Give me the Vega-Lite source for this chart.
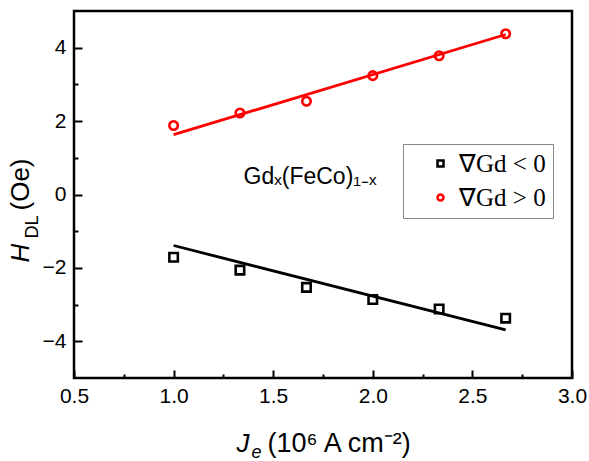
{
  "$schema": "https://vega.github.io/schema/vega-lite/v6.json",
  "width": 498,
  "height": 367,
  "autosize": {"type": "none"},
  "padding": {"left": 74, "top": 11, "right": 17, "bottom": 83},
  "background": "white",
  "config": {
    "view": {"stroke": "black", "strokeWidth": 2.5},
    "axis": {
      "domain": false,
      "grid": false,
      "tickColor": "black",
      "tickWidth": 2,
      "labelFont": "Liberation Sans",
      "labelFontSize": 21,
      "labelColor": "black",
      "labelFlush": false,
      "labelOverlap": false,
      "titleFont": "Liberation Sans",
      "titleColor": "black",
      "titleFontWeight": "normal",
      "titleBaseline": "alphabetic",
      "titleAlign": "left"
    },
    "legend": {
      "strokeColor": "#888888",
      "strokeWidth": 1,
      "fillColor": "white",
      "padding": 7,
      "symbolOffset": 18,
      "labelOffset": 6,
      "rowPadding": 8,
      "labelFont": "Liberation Serif",
      "labelFontSize": 25,
      "labelColor": "black",
      "symbolSize": 36,
      "symbolStrokeWidth": 2.5
    }
  },
  "datasets": {
    "points": [
      {"J": 1.0, "H": -1.71, "series": "∇Gd < 0"},
      {"J": 1.333, "H": -2.06, "series": "∇Gd < 0"},
      {"J": 1.667, "H": -2.53, "series": "∇Gd < 0"},
      {"J": 2.0, "H": -2.86, "series": "∇Gd < 0"},
      {"J": 2.333, "H": -3.12, "series": "∇Gd < 0"},
      {"J": 2.667, "H": -3.37, "series": "∇Gd < 0"},
      {"J": 1.0, "H": 1.88, "series": "∇Gd > 0"},
      {"J": 1.333, "H": 2.22, "series": "∇Gd > 0"},
      {"J": 1.667, "H": 2.54, "series": "∇Gd > 0"},
      {"J": 2.0, "H": 3.24, "series": "∇Gd > 0"},
      {"J": 2.333, "H": 3.78, "series": "∇Gd > 0"},
      {"J": 2.667, "H": 4.38, "series": "∇Gd > 0"}
    ],
    "fits": [
      {"J": 1.0, "H": -1.39, "series": "∇Gd < 0"},
      {"J": 2.667, "H": -3.69, "series": "∇Gd < 0"},
      {"J": 1.0, "H": 1.63, "series": "∇Gd > 0"},
      {"J": 2.667, "H": 4.36, "series": "∇Gd > 0"}
    ]
  },
  "resolve": {"axis": {"x": "independent", "y": "independent"}},
  "layer": [
    {
      "data": {"name": "fits"},
      "mark": {"type": "line", "strokeWidth": 2.8},
      "encoding": {
        "x": {
          "field": "J", "type": "quantitative",
          "scale": {"domain": [0.5, 3], "nice": false, "zero": false},
          "axis": {
            "orient": "bottom",
            "values": [0.5, 1, 1.5, 2, 2.5, 3],
            "format": ".1f",
            "tickSize": -8,
            "labelPadding": 15,
            "title": "J",
            "titleFontStyle": "italic",
            "titleFontSize": 26,
            "titleX": 162,
            "titleY": 73
          }
        },
        "y": {
          "field": "H", "type": "quantitative",
          "scale": {"domain": [-5, 5], "nice": false, "zero": false},
          "axis": {
            "orient": "left",
            "values": [-4, -2, 0, 2, 4],
            "tickSize": -8,
            "labelPadding": 16,
            "title": "H",
            "titleFontStyle": "italic",
            "titleFontSize": 26,
            "titleAngle": 270,
            "titleX": -46,
            "titleY": 251
          }
        },
        "stroke": {
          "field": "series", "type": "nominal",
          "scale": {"range": ["black", "#ff0000"]},
          "legend": null
        }
      }
    },
    {
      "data": {"name": "points"},
      "mark": {"type": "point", "filled": false, "strokeWidth": 2.6, "opacity": 1, "size": 72},
      "encoding": {
        "x": {
          "field": "J", "type": "quantitative",
          "scale": {"domain": [0.5, 3], "nice": false, "zero": false},
          "axis": {
            "orient": "bottom",
            "values": [0.75, 1.25, 1.75, 2.25, 2.75],
            "labels": false,
            "tickSize": -4,
            "title": "e",
            "titleFontStyle": "italic",
            "titleFontSize": 18,
            "titleX": 177,
            "titleY": 79
          }
        },
        "y": {
          "field": "H", "type": "quantitative",
          "scale": {"domain": [-5, 5], "nice": false, "zero": false},
          "axis": {
            "orient": "left",
            "values": [-3, -1, 1, 3],
            "labels": false,
            "tickSize": -4,
            "title": "DL",
            "titleFontSize": 18,
            "titleAngle": 270,
            "titleX": -37,
            "titleY": 227
          }
        },
        "color": {
          "field": "series", "type": "nominal",
          "scale": {"domain": ["∇Gd < 0", "∇Gd > 0"], "range": ["black", "#ff0000"]},
          "legend": {"title": null, "orient": "none", "legendX": 329, "legendY": 133}
        },
        "shape": {
          "field": "series", "type": "nominal",
          "scale": {"domain": ["∇Gd < 0", "∇Gd > 0"], "range": ["square", "circle"]},
          "legend": {"title": null, "orient": "none", "legendX": 329, "legendY": 133}
        }
      }
    },
    {
      "data": {"values": [{"label": "Gdₓ(FeCo)₁₋ₓ"}]},
      "mark": {"type": "text", "font": "Liberation Sans", "fontSize": 23, "color": "black", "align": "center", "baseline": "alphabetic"},
      "encoding": {
        "text": {"field": "label"},
        "x": {
          "datum": 1.685, "type": "quantitative",
          "scale": {"domain": [0.5, 3], "nice": false, "zero": false},
          "axis": {
            "orient": "bottom",
            "labels": false,
            "ticks": false,
            "title": "(10⁶ A cm⁻²)",
            "titleFontSize": 27,
            "titleX": 193,
            "titleY": 73
          }
        },
        "y": {
          "datum": 0.29, "type": "quantitative",
          "scale": {"domain": [-5, 5], "nice": false, "zero": false},
          "axis": {
            "orient": "left",
            "labels": false,
            "ticks": false,
            "title": "(Oe)",
            "titleFontSize": 26,
            "titleAngle": 270,
            "titleX": -46,
            "titleY": 199
          }
        }
      }
    }
  ]
}
